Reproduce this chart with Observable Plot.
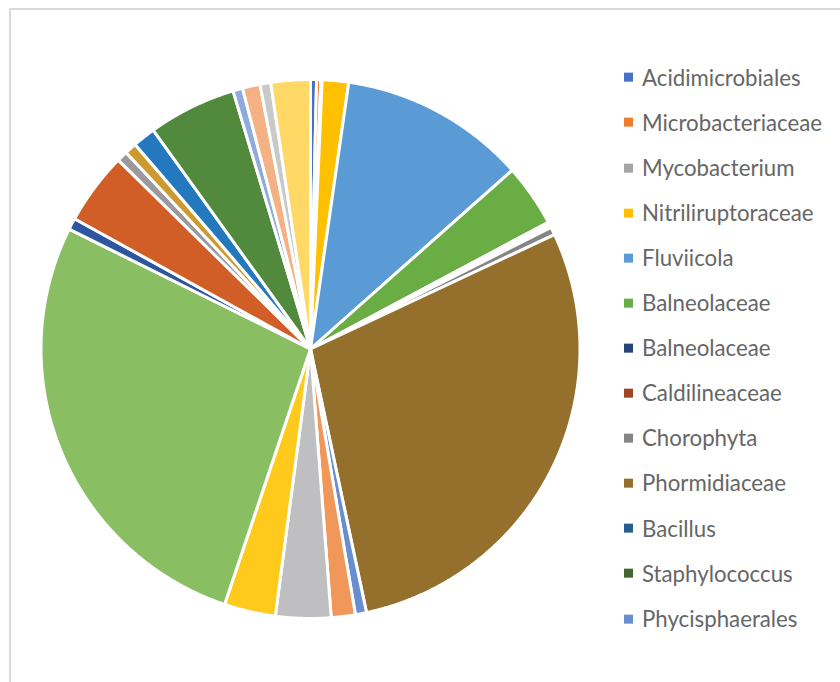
<!DOCTYPE html>
<html><head><meta charset="utf-8">
<script src="https://cdn.jsdelivr.net/npm/d3@7"></script>
<script src="https://cdn.jsdelivr.net/npm/@observablehq/plot@0.6"></script>
<style>
html,body{margin:0;padding:0;background:#fff;}
#wrap{position:relative;width:840px;height:682px;overflow:hidden;}
#frame{position:absolute;left:9px;top:8px;width:900px;height:700px;border-left:2px solid #D9D9D9;border-top:2px solid #D9D9D9;}
#chart{position:absolute;left:0;top:0;}
#legend{position:absolute;left:624px;top:0;width:216px;height:682px;font-family:Lato,"Open Sans",sans-serif;color:#666;}
.item{position:absolute;left:0;white-space:nowrap;display:flex;align-items:center;transform:translateY(-50%);line-height:1.2;}
.sw{width:9px;height:9px;margin-right:9px;flex:none;}
</style></head><body>
<div id="wrap"><div id="frame"></div><div id="chart"></div><div id="legend"></div></div>
<script>
// Categories (first 13 shown in the legend; the rest are unlabeled series in the original)
const categories = [
  "Acidimicrobiales","Microbacteriaceae","Mycobacterium","Nitriliruptoraceae","Fluviicola",
  "Balneolaceae","Balneolaceae","Caldilineaceae","Chorophyta","Phormidiaceae",
  "Bacillus","Staphylococcus","Phycisphaerales",
  "Series 14","Series 15","Series 16","Series 17","Series 18","Series 19","Series 20",
  "Series 21","Series 22","Series 23","Series 24","Series 25","Series 26","Series 27","Series 28"
];
// Relative abundance (%)
const values = [
  0.36, 0.25, 0.08, 1.58, 11.19,
  3.75, 0.17, 0.17, 0.47, 28.64,
  0, 0, 0.67,
  1.44, 3.31, 3.08, 0, 27.17, 0.69, 4.33,
  0.64, 0.72, 1.36, 5.28, 0.58, 1.06, 0.64, 2.36
];
const colors = [
  "#4472C4","#ED7D31","#A5A5A5","#FFC000","#5B9BD5",
  "#6AAD44","#264478","#9E4520","#868686","#94702C",
  "#255E91","#43682B","#698ED0",
  "#F1975A","#BFBFC1","#FFCA1C","#7CAFDD","#8ABE62","#2E56A0","#D15E26",
  "#9A9A9E","#CC9A2E","#2378BE","#518A3D","#8FAADC","#F4B183","#C9C9C9","#FFD865"
];
const legendCount = 13;

const rows = categories.map((name, i) => ({key: String(i), name, value: values[i]}));
const arcs = d3.pie().sort(null).value(d => d.value)(rows);
const pts = [];
for (const a of arcs) {
  const span = a.endAngle - a.startAngle;
  if (span <= 0) continue;
  const key = a.data.key;
  pts.push({key, x: 0, y: 0});
  const n = Math.max(2, Math.ceil(span / (Math.PI / 720)));
  for (let i = 0; i <= n; i++) {
    const t = a.startAngle + span * i / n;
    pts.push({key, x: Math.sin(t), y: Math.cos(t)});
  }
  pts.push({key, x: 0, y: 0});
}

const chart = Plot.plot({
  width: 840,
  height: 682,
  marginLeft: 40.5,
  marginRight: 260.5,
  marginTop: 79,
  marginBottom: 64,
  x: {domain: [-1, 1], axis: null},
  y: {domain: [-1, 1], axis: null},
  color: {type: "ordinal", domain: rows.map(d => d.key), range: colors},
  style: {background: "transparent"},
  marks: [
    Plot.line(pts, {x: "x", y: "y", z: "key", fill: "key", stroke: "white", strokeWidth: 3, strokeLinejoin: "round", curve: "linear"})
  ]
});
document.getElementById("chart").appendChild(chart);

// Legend
const legend = document.getElementById("legend");
const ctx = document.createElement("canvas").getContext("2d");
ctx.font = "100px Lato";
const fs = 100 * 180 / ctx.measureText("Microbacteriaceae").width;
legend.style.fontSize = fs.toFixed(2) + "px";
for (let i = 0; i < legendCount; i++) {
  const it = document.createElement("div");
  it.className = "item";
  it.style.top = (77.5 + i * 45.1) + "px";
  const sw = document.createElement("span");
  sw.className = "sw";
  sw.style.background = colors[i];
  const tx = document.createElement("span");
  tx.textContent = categories[i];
  it.appendChild(sw); it.appendChild(tx);
  legend.appendChild(it);
}
</script>
</body></html>
